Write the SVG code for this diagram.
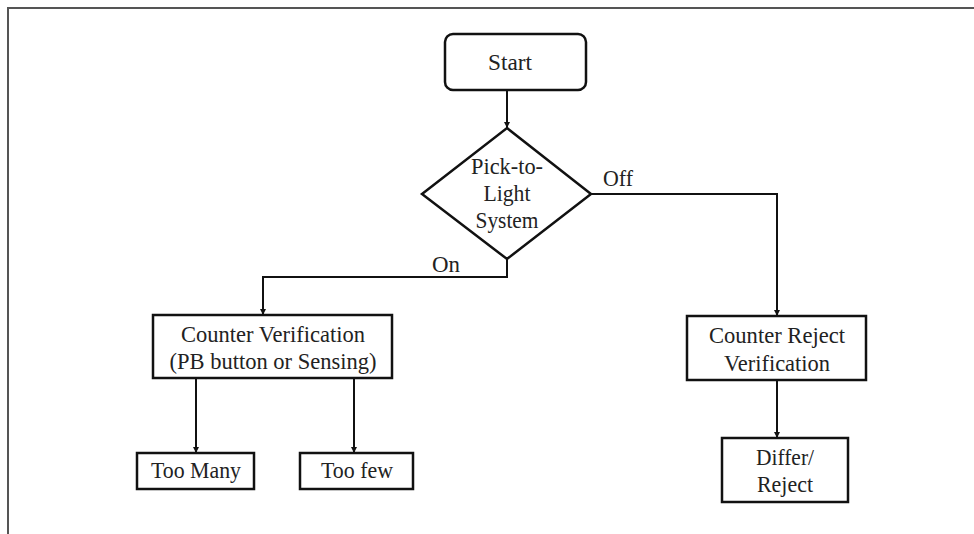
<svg xmlns="http://www.w3.org/2000/svg" width="974" height="534" viewBox="0 0 974 534">
<defs>
<marker id="arr" viewBox="0 0 10 10" refX="10" refY="5" markerWidth="6" markerHeight="6" markerUnits="userSpaceOnUse" orient="auto">
<path d="M0,0 L10,5 L0,10 z" fill="#111"/>
</marker>
</defs>
<rect width="974" height="534" fill="#fff"/>
<path d="M8,534 L8,8 L974,8" fill="none" stroke="#555" stroke-width="2"/>
<g id="connectors" fill="none" stroke="#111" stroke-width="2">
<path d="M507,90 L507,128" marker-end="url(#arr)"/>
<path d="M507,259 L507,277 L263,277 L263,315" marker-end="url(#arr)"/>
<path d="M591,194 L777,194 L777,316" marker-end="url(#arr)"/>
<path d="M196,378 L196,453" marker-end="url(#arr)"/>
<path d="M354,378 L354,453" marker-end="url(#arr)"/>
<path d="M777,380 L777,438" marker-end="url(#arr)"/>
</g>
<g id="labels">
<text font-family="Liberation Serif" font-size="24" fill="#222" text-anchor="middle" x="618" y="186" textLength="30" lengthAdjust="spacingAndGlyphs">Off</text>
<text font-family="Liberation Serif" font-size="24" fill="#222" text-anchor="middle" x="446" y="272" textLength="28" lengthAdjust="spacingAndGlyphs">On</text>
</g>
<g id="start">
<rect x="445" y="34" width="141" height="56" rx="8" ry="8" fill="#fff" stroke="#111" stroke-width="2.5"/>
<text font-family="Liberation Serif" font-size="24" fill="#222" text-anchor="middle" x="510" y="70" textLength="44" lengthAdjust="spacingAndGlyphs">Start</text>
</g>
<g id="decision">
<polygon points="507,128 591,194 507,259 422,194" fill="#fff" stroke="#111" stroke-width="2.5"/>
<text font-family="Liberation Serif" font-size="24" fill="#222" text-anchor="middle" x="507" y="174" textLength="72" lengthAdjust="spacingAndGlyphs">Pick-to-</text>
<text font-family="Liberation Serif" font-size="24" fill="#222" text-anchor="middle" x="507" y="201" textLength="47" lengthAdjust="spacingAndGlyphs">Light</text>
<text font-family="Liberation Serif" font-size="24" fill="#222" text-anchor="middle" x="507" y="228" textLength="63" lengthAdjust="spacingAndGlyphs">System</text>
</g>
<g id="counter-verification">
<rect x="153" y="315" width="239" height="63" fill="#fff" stroke="#111" stroke-width="2.5"/>
<text font-family="Liberation Serif" font-size="24" fill="#222" text-anchor="middle" x="273" y="342" textLength="184" lengthAdjust="spacingAndGlyphs">Counter Verification</text>
<text font-family="Liberation Serif" font-size="24" fill="#222" text-anchor="middle" x="273" y="369" textLength="207" lengthAdjust="spacingAndGlyphs">(PB button or Sensing)</text>
</g>
<g id="counter-reject">
<rect x="687" y="316" width="179" height="64" fill="#fff" stroke="#111" stroke-width="2.5"/>
<text font-family="Liberation Serif" font-size="24" fill="#222" text-anchor="middle" x="777" y="343" textLength="136" lengthAdjust="spacingAndGlyphs">Counter Reject</text>
<text font-family="Liberation Serif" font-size="24" fill="#222" text-anchor="middle" x="777" y="371" textLength="106" lengthAdjust="spacingAndGlyphs">Verification</text>
</g>
<g id="too-many">
<rect x="137" y="453" width="117" height="36" fill="#fff" stroke="#111" stroke-width="2.5"/>
<text font-family="Liberation Serif" font-size="24" fill="#222" text-anchor="middle" x="196" y="478" textLength="90" lengthAdjust="spacingAndGlyphs">Too Many</text>
</g>
<g id="too-few">
<rect x="300" y="453" width="113" height="36" fill="#fff" stroke="#111" stroke-width="2.5"/>
<text font-family="Liberation Serif" font-size="24" fill="#222" text-anchor="middle" x="357" y="478" textLength="72" lengthAdjust="spacingAndGlyphs">Too few</text>
</g>
<g id="differ-reject">
<rect x="722" y="438" width="126" height="64" fill="#fff" stroke="#111" stroke-width="2.5"/>
<text font-family="Liberation Serif" font-size="24" fill="#222" text-anchor="middle" x="785" y="465" textLength="58" lengthAdjust="spacingAndGlyphs">Differ/</text>
<text font-family="Liberation Serif" font-size="24" fill="#222" text-anchor="middle" x="785" y="492" textLength="56" lengthAdjust="spacingAndGlyphs">Reject</text>
</g>
</svg>
